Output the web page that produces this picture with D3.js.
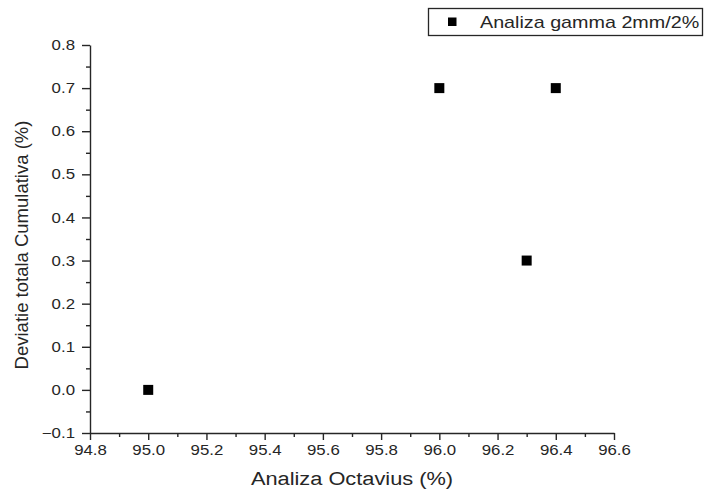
<!DOCTYPE html>
<html>
<head>
<meta charset="utf-8">
<script src="https://cdn.jsdelivr.net/npm/d3@7"></script>
<style>
  html, body { margin: 0; padding: 0; background: #fff; }
  svg { display: block; font-family: "Liberation Sans", Arial, sans-serif; }
</style>
</head>
<body>
<svg id="chart" width="704" height="498"></svg>
<script>
// Gamma analysis results against Octavius analysis
const octavius = [95.0, 96.0, 96.3, 96.4];
const deviatie = [0.0, 0.7, 0.3, 0.7];
const seriesName = "Analiza gamma 2mm/2%";
const xTicks = [94.8, 95.0, 95.2, 95.4, 95.6, 95.8, 96.0, 96.2, 96.4, 96.6];
const yTicks = [-0.1, 0.0, 0.1, 0.2, 0.3, 0.4, 0.5, 0.6, 0.7, 0.8];
const xTitle = "Analiza Octavius (%)";
const yTitle = "Deviatie totala Cumulativa (%)";

const svg = d3.select("#chart");
const plot = { left: 90, right: 614, top: 45, bottom: 433 };
const ink = "#262626";
const wide = 1.16; // horizontal widening of the label glyphs

const x = d3.scaleLinear().domain([94.8, 96.6]).range([plot.left, plot.right]);
const y = d3.scaleLinear().domain([-0.1, 0.8]).range([plot.bottom, plot.top]);

const fmt = d3.format(".1f");
const minus = s => s.replace("-", "\u2212");

// stretch text horizontally by a factor, keeping its anchor
function widen(sel, k) {
  sel.each(function () {
    const w = this.getComputedTextLength();
    d3.select(this).attr("textLength", w * k).attr("lengthAdjust", "spacingAndGlyphs");
  });
}

// minor ticks halfway between major ones
const xMinor = d3.range(0, xTicks.length - 1).map(i => (xTicks[i] + xTicks[i + 1]) / 2);
const yMinor = d3.range(0, yTicks.length - 1).map(i => (yTicks[i] + yTicks[i + 1]) / 2);

svg.append("g").attr("transform", `translate(0,${plot.bottom})`)
  .call(d3.axisBottom(x).tickValues(xTicks).tickFormat(d => fmt(d)).tickSizeInner(7).tickSizeOuter(0).tickPadding(5));
svg.append("g").attr("transform", `translate(0,${plot.bottom})`)
  .call(d3.axisBottom(x).tickValues(xMinor).tickFormat("").tickSizeInner(4).tickSizeOuter(0))
  .select(".domain").remove();

svg.append("g").attr("transform", `translate(${plot.left},0)`)
  .call(d3.axisLeft(y).tickValues(yTicks).tickFormat(d => minus(fmt(d))).tickSizeInner(8).tickSizeOuter(0).tickPadding(7));
svg.append("g").attr("transform", `translate(${plot.left},0)`)
  .call(d3.axisLeft(y).tickValues(yMinor).tickFormat("").tickSizeInner(4).tickSizeOuter(0))
  .select(".domain").remove();

svg.selectAll(".tick text").attr("font-size", 14.5).attr("fill", ink)
  .attr("font-family", "'Liberation Sans', Arial, sans-serif");
svg.selectAll(".domain, .tick line").attr("stroke", ink).attr("stroke-width", 1.4);
widen(svg.selectAll(".tick text"), wide);

// axis titles
svg.append("text")
  .attr("x", (plot.left + plot.right) / 2).attr("y", 485)
  .attr("text-anchor", "middle").attr("font-size", 18.8).attr("fill", ink)
  .text(xTitle)
  .call(widen, wide);
svg.append("text")
  .attr("transform", `translate(28,245) rotate(-90)`)
  .attr("text-anchor", "middle").attr("font-size", 18.5).attr("fill", ink)
  .text(yTitle);

// points
const ms = 10;
svg.append("g").selectAll("rect")
  .data(octavius.map((v, i) => [v, deviatie[i]]))
  .join("rect")
  .attr("x", d => x(d[0]) - ms / 2)
  .attr("y", d => y(d[1]) - ms / 2)
  .attr("width", ms).attr("height", ms)
  .attr("fill", "#000");

// legend
const lg = svg.append("g");
lg.append("rect").attr("x", 428.5).attr("y", 8.5).attr("width", 274).attr("height", 27)
  .attr("fill", "#fff").attr("stroke", ink).attr("stroke-width", 1.3);
lg.append("rect").attr("x", 448).attr("y", 17.5).attr("width", 8.5).attr("height", 8.5).attr("fill", "#000");
lg.append("text").attr("x", 480).attr("y", 27.5).attr("font-size", 17).attr("fill", ink)
  .text(seriesName)
  .call(widen, wide);
</script>
</body>
</html>
